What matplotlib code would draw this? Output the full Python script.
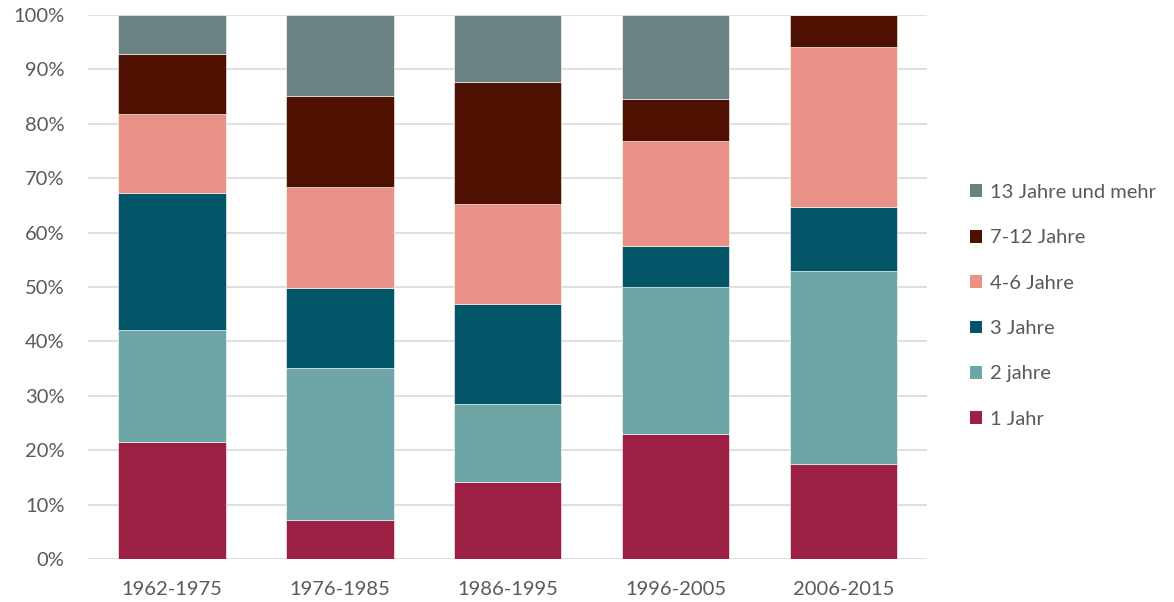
import numpy as np
import matplotlib.pyplot as plt
from matplotlib.patches import Patch

###Data (share in %)
periods = ['1962-1975', '1976-1985', '1986-1995', '1996-2005', '2006-2015']
series_names = ['1 Jahr', '2 jahre', '3 Jahre', '4-6 Jahre', '7-12 Jahre', '13 Jahre und mehr']
jahr_1 = [21.6, 7.2, 14.2, 22.9, 17.5]
jahre_2 = [20.5, 28.0, 14.3, 27.1, 35.4]
jahre_3 = [25.2, 14.7, 18.4, 7.5, 11.8]
jahre_4_6 = [14.6, 18.5, 18.4, 19.4, 29.4]
jahre_7_12 = [10.9, 16.8, 22.4, 7.7, 5.9]
jahre_13 = [7.2, 14.8, 12.3, 15.4, 0.0]

series = [jahr_1, jahre_2, jahre_3, jahre_4_6, jahre_7_12, jahre_13]
colors = ['#9B2043', '#6EA5A7', '#035568', '#E89287', '#4E1000', '#6B8283']

plt.rcParams['font.family'] = ['Lato', 'DejaVu Sans']
txt_col = '#595959'

#Figure Settings
fig = plt.figure(figsize=(11.74, 6.02), dpi=100)
ax = fig.add_axes([0.075, 0.0714, 0.715, 0.9036])

x = np.arange(len(periods))
bottom = np.zeros(len(periods))
for vals, col, name in zip(series, colors, series_names):
    vals = np.array(vals)
    ax.bar(x, vals, 0.64, bottom=bottom, color=col, edgecolor='white', linewidth=0.4, label=name, zorder=2)
    bottom += vals

#Axis Settings
ax.set_xlim(-0.5, len(periods) - 0.5)
ax.set_ylim(0, 100)
ax.set_yticks(np.arange(0, 101, 10))
ax.set_yticklabels([f'{v}%' for v in range(0, 101, 10)])
ax.set_xticks(x)
ax.set_xticklabels(periods)
ax.tick_params(length=0, labelsize=14.5, colors=txt_col)
ax.tick_params(axis='x', pad=16)
ax.tick_params(axis='y', pad=17)
ax.yaxis.grid(True, color='#d9d9d9', linewidth=1.2, zorder=0)
ax.set_axisbelow(True)
for s in ax.spines.values():
    s.set_visible(False)

#Legend (reverse order, top = 13 Jahre)
handles = [Patch(facecolor=c, edgecolor='none') for c in colors][::-1]
labels = series_names[::-1]
leg = fig.legend(handles, labels, loc='upper left', bbox_to_anchor=(0.819, 0.708),
                 frameon=False, fontsize=14.5, handlelength=0.6, handleheight=0.6,
                 handletextpad=0.4, labelspacing=1.41, borderaxespad=0)
for t in leg.get_texts():
    t.set_color(txt_col)

plt.savefig('out.png', dpi=100)
